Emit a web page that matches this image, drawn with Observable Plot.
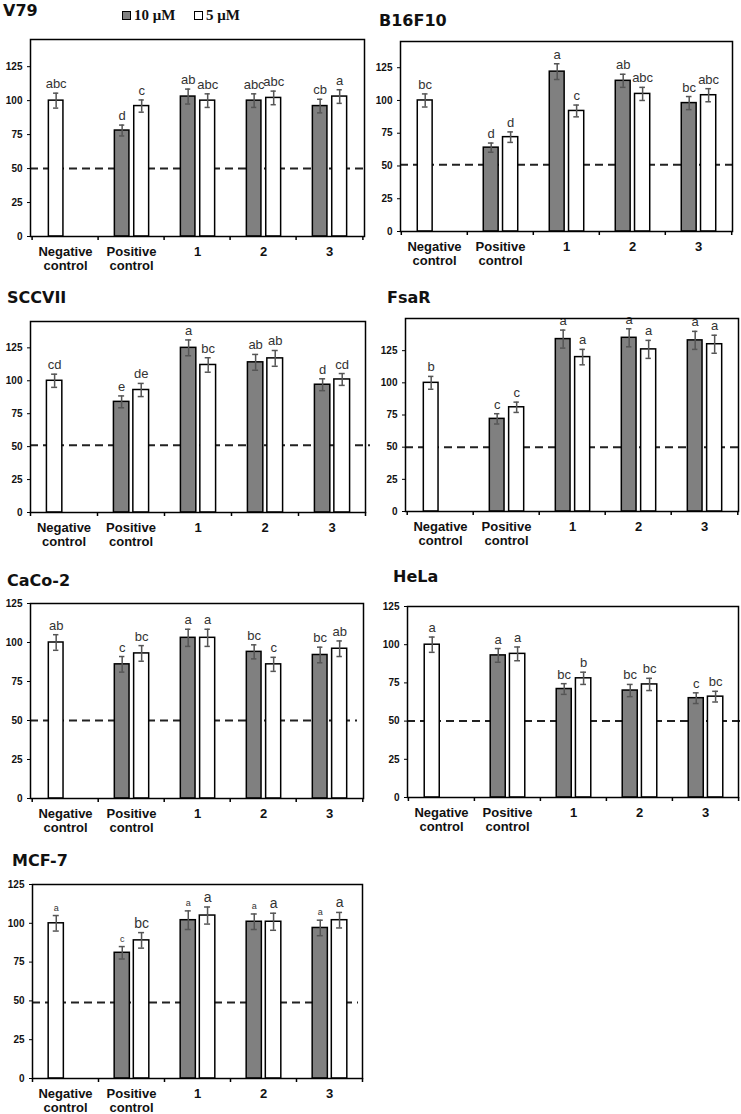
<!DOCTYPE html>
<html><head><meta charset="utf-8">
<script src="https://cdn.jsdelivr.net/npm/d3@7"></script>
<script src="https://cdn.jsdelivr.net/npm/@observablehq/plot@0.6"></script>
<style>
body{margin:0;background:#fff;}
#root{position:relative;width:741px;height:1114px;overflow:hidden;}
#root svg{position:absolute;max-width:none;}
</style></head><body><div id="root"></div>
<script>
// ---------------- DATA ----------------
const categories = ["Negative\ncontrol", "Positive\ncontrol", "1", "2", "3"];
const seriesNames = ["10 μM", "5 μM"];
const cellLines = ["V79", "B16F10", "SCCVII", "FsaR", "CaCo-2", "HeLa", "MCF-7"];
const yTicks = [0, 25, 50, 75, 100, 125];
const axisMax = [145, 145, 145, 150, 125, 125, 125];
const cutoff = [50, 51, 51, 50, 50, 50, 49];

// Negative control (single bar per cell line)
const negMean = [100, 100, 100, 100, 100, 100, 100];
const negErr = [5.5, 5, 5, 5, 5, 5, 5];
const negSig = ["abc", "bc", "cd", "b", "ab", "a", "a"];

// 10 µM: Positive control, 1, 2, 3
const mean10 = [
  [78, 103, 100, 96],
  [64, 122, 115, 98],
  [84, 125, 114, 97],
  [72, 134, 135, 133],
  [86, 103, 94, 92],
  [93, 71, 70, 65],
  [81, 102, 101, 97]
];
const err10 = [
  [4, 5.5, 5, 5],
  [3.5, 6, 5, 5],
  [4.5, 6, 6, 4.5],
  [4, 7, 7, 7],
  [5, 5.5, 4.5, 5],
  [4.5, 3.5, 4, 3.5],
  [4, 6, 5, 5]
];
const sig10 = [
  ["d", "ab", "abc", "cb"],
  ["d", "a", "ab", "bc"],
  ["e", "a", "ab", "d"],
  ["c", "a", "a", "a"],
  ["c", "a", "bc", "bc"],
  ["a", "bc", "bc", "c"],
  ["c", "a", "a", "a"]
];

// 5 µM: Positive control, 1, 2, 3
const mean5 = [
  [96, 100, 102, 103],
  [72, 92, 105, 104],
  [93, 112, 117, 101],
  [81, 120, 126, 130],
  [93, 103, 86, 96],
  [94, 78, 74, 66],
  [89, 105, 101, 102]
];
const err5 = [
  [4.5, 5, 5, 5],
  [4, 4.5, 5, 5],
  [5, 5.5, 6, 4.5],
  [4, 6, 7, 7],
  [5, 5.5, 4.5, 5],
  [4.5, 4, 4, 3.5],
  [5, 5.5, 5.5, 5]
];
const sig5 = [
  ["c", "abc", "abc", "a"],
  ["d", "c", "abc", "abc"],
  ["de", "bc", "ab", "cd"],
  ["c", "a", "a", "a"],
  ["bc", "a", "c", "ab"],
  ["a", "b", "bc", "bc"],
  ["bc", "a", "a", "a"]
];

// ---------------- LAYOUT / STYLE ----------------
const frames = [
  {L: 30, R: 364, T: 39, B: 236},
  {L: 400, R: 732, T: 41, B: 231},
  {L: 30, R: 365, T: 321, B: 512},
  {L: 405, R: 738, T: 318, B: 511},
  {L: 30, R: 363, T: 603, B: 798},
  {L: 407, R: 738, T: 606, B: 797},
  {L: 32, R: 362, T: 884, B: 1078}
];
const titlePos = [
  {x: 3, y: 16}, {x: 379, y: 26}, {x: 7, y: 303}, {x: 387, y: 303},
  {x: 7, y: 586}, {x: 393, y: 582}, {x: 12, y: 866}
];
const dashExtend = [0, 6, 5, 2, -6, 2, -4];
const letterSizes = [
  [13, 13, 13], [13, 13, 13], [13, 13, 13], [13, 13, 13],
  [13, 13, 13], [13, 13, 13], [9, 9, 14]   // [negative, 10 µM, 5 µM]
];
const darkFill = "#808080";
const slotL = [0.245, 0.535];
const slotR = [0.475, 0.77];

const root = document.getElementById("root");
const mL = 30, mT = 10, mR = 9, mB = 42;

cellLines.forEach((name, i) => {
  const f = frames[i];
  const bw = (f.R - f.L) / categories.length;
  const rows = [{cat: categories[0], slot: 0, fill: "white", v: negMean[i], e: negErr[i], sig: negSig[i], fs: letterSizes[i][0]}];
  for (let j = 0; j < 4; j++) {
    rows.push({cat: categories[j + 1], slot: 0, fill: darkFill, v: mean10[i][j], e: err10[i][j], sig: sig10[i][j], fs: letterSizes[i][1]});
    rows.push({cat: categories[j + 1], slot: 1, fill: "white", v: mean5[i][j], e: err5[i][j], sig: sig5[i][j], fs: letterSizes[i][2]});
  }
  const marks = [
    Plot.ruleY([cutoff[i]], {stroke: "#222", strokeWidth: 2, strokeDasharray: "8,5", insetRight: -dashExtend[i]})
  ];
  [0, 1].forEach(s => {
    const rs = rows.filter(d => d.slot === s);
    const c = (slotL[s] + slotR[s]) / 2;
    marks.push(
      Plot.barY(rs, {x: "cat", y: "v", fill: "fill", stroke: "#000", strokeWidth: 1.5,
        insetLeft: slotL[s] * bw, insetRight: (1 - slotR[s]) * bw}),
      Plot.ruleX(rs, {x: "cat", y1: d => d.v - d.e, y2: d => d.v + d.e, dx: (c - 0.5) * bw, stroke: "#555", strokeWidth: 1.5}),
      Plot.tickY(rs, {x: "cat", y: d => d.v + d.e, insetLeft: c * bw - 3, insetRight: (1 - c) * bw - 3, stroke: "#555", strokeWidth: 1.5}),
      Plot.tickY(rs, {x: "cat", y: d => d.v - d.e, insetLeft: c * bw - 3, insetRight: (1 - c) * bw - 3, stroke: "#555", strokeWidth: 1.5}),
      Plot.text(rs, {x: "cat", y: d => d.v + d.e, text: "sig", dx: (c - 0.5) * bw, dy: -5, lineAnchor: "bottom",
        fontSize: "fs", fill: "#333", fontFamily: "Liberation Sans, Arial, sans-serif"})
    );
  });
  marks.push(
    Plot.ruleX(categories, {x: d => d, dx: -bw / 2, y1: 0, y2: 0, insetBottom: -4, stroke: "#000", strokeWidth: 1.5}),
    Plot.ruleX([categories[categories.length - 1]], {x: d => d, dx: bw / 2, y1: 0, y2: 0, insetBottom: -4, stroke: "#000", strokeWidth: 1.5}),
    Plot.axisY({ticks: yTicks, tickSize: 3, tickPadding: 5, fontSize: 10, fontWeight: "bold", fill: "#111", stroke: "#000", label: null}),
    Plot.axisX({tickSize: 0, tickPadding: 9, fontSize: 13, fontWeight: "bold", lineHeight: 1.1, fill: "#111", label: null}),
    Plot.frame({stroke: "#000", strokeWidth: 1.5})
  );
  const svg = Plot.plot({
    width: (f.R - f.L) + mL + mR,
    height: (f.B - f.T) + mT + mB,
    marginLeft: mL, marginRight: mR, marginTop: mT, marginBottom: mB,
    x: {domain: categories, padding: 0, axis: null},
    y: {domain: [0, axisMax[i]], axis: null},
    color: {type: "identity"},
    style: {fontFamily: "Liberation Sans, Arial, sans-serif", background: "transparent", overflow: "visible"},
    marks
  });
  svg.style.left = (f.L - mL) + "px";
  svg.style.top = (f.T - mT) + "px";
  root.appendChild(svg);
});

// Titles and legend (overlay)
const ov = d3.select(root).append("svg").attr("width", 741).attr("height", 1114)
  .style("left", "0px").style("top", "0px").style("pointer-events", "none");
cellLines.forEach((name, i) => {
  ov.append("text").attr("x", titlePos[i].x).attr("y", titlePos[i].y)
    .attr("font-family", "DejaVu Sans, sans-serif").attr("font-weight", "bold").attr("font-size", 16)
    .attr("fill", "#111").text(name);
});
const legendX = [122, 194];
const legendFill = [darkFill, "white"];
seriesNames.forEach((s, k) => {
  ov.append("rect").attr("x", legendX[k] + 0.5).attr("y", 11.5).attr("width", 8).attr("height", 8)
    .attr("fill", legendFill[k]).attr("stroke", "#000").attr("stroke-width", 1);
  ov.append("text").attr("x", legendX[k] + 12).attr("y", 19.5)
    .attr("font-family", "Liberation Serif, Times New Roman, serif").attr("font-weight", "bold")
    .attr("font-size", 15).attr("fill", "#111").text(s);
});
</script>
</body></html>
